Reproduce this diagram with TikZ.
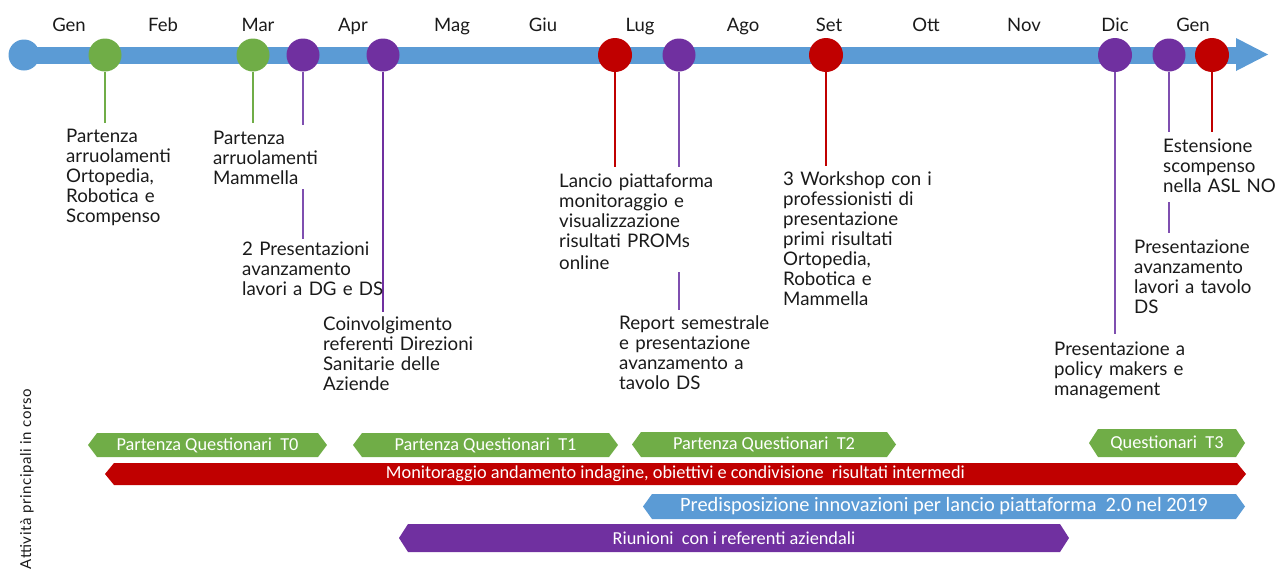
\documentclass[tikz,border=0pt]{standalone}
\usepackage{fontspec}
\setmainfont{Lato}
\newfontfamily\barfont{Carlito}
\newfontfamily\sidefont[LetterSpace=4]{Lato}
\definecolor{tgreen}{HTML}{70AD47}
\definecolor{tred}{HTML}{C00000}
\definecolor{tblue}{HTML}{5B9BD5}
\definecolor{tpurple}{HTML}{7030A0}
\definecolor{lpurple}{HTML}{7F4FB0}
\definecolor{txt}{HTML}{1A1A1A}
\newcommand{\hexbar}[5]{%
  \fill[#5] (#1,{(#3+#4)/2}) -- (#1+9,#3) -- (#2-9,#3) -- (#2,{(#3+#4)/2}) -- (#2-9,#4) -- (#1+9,#4) -- cycle;}
\begin{document}
\begin{tikzpicture}[x=1pt,y=-1pt,
  dot/.style={circle, inner sep=0pt, minimum size=33pt, fill=#1},
  month/.style={anchor=base, inner sep=0pt, font=\fontsize{18.5}{20}\selectfont, text=txt},
  lbl/.style={anchor=base west, inner sep=0pt, text width=230pt, align=left, font=\fontsize{18.7}{20}\selectfont, text=txt},
  conn/.style={line width=1.4pt, draw=#1},
  bartext/.style={inner sep=0pt, text=white, font=\barfont\fontsize{18.3}{20}\selectfont}]
\useasboundingbox (0,0) rectangle (1276,568);
% timeline
\draw[tblue, line width=17pt] (24,55) -- (1240,55);
\fill[tblue] (1236,38) -- (1268,54.5) -- (1236,71) -- cycle;
\node[dot=tblue, minimum size=31pt] (start) at (24,55) {};
% months
\node[month] (m1) at (69,31) {Gen};
\node[month] (m2) at (163,31) {Feb};
\node[month] (m3) at (258,31) {Mar};
\node[month] (m4) at (353,31) {Apr};
\node[month] (m5) at (452,31) {Mag};
\node[month] (m6) at (543,31) {Giu};
\node[month] (m7) at (640,31) {Lug};
\node[month] (m8) at (743,31) {Ago};
\node[month] (m9) at (829,31) {Set};
\node[month] (m10) at (926,31) {Ott};
\node[month] (m11) at (1024,31) {Nov};
\node[month] (m12) at (1115,31) {Dic};
\node[month] (m13) at (1193,31) {Gen};
% event dots
\node[dot=tgreen] (g1) at (105,55) {};
\node[dot=tgreen] (g2) at (253,55) {};
\node[dot=tpurple] (p1) at (303,55) {};
\node[dot=tpurple] (p2) at (383,55) {};
\node[dot=tred, minimum size=34pt] (r1) at (615,55) {};
\node[dot=tpurple] (p3) at (679,55) {};
\node[dot=tred, minimum size=34pt] (r2) at (826,55) {};
\node[dot=tpurple, minimum size=34pt] (p4) at (1115,55) {};
\node[dot=tpurple] (p5) at (1169,55) {};
\node[dot=tred, minimum size=34pt] (r3) at (1212,55) {};
% connector ends
\coordinate (eg1) at (105,123);
\coordinate (eg2) at (253,123);
\coordinate (ep1) at (303,125);
\coordinate (sp1) at (303,189);
\coordinate (tp1) at (303,239);
\coordinate (ep2) at (383,312);
\coordinate (er1) at (615,167);
\coordinate (ep3) at (679,167);
\coordinate (sp3) at (679,272);
\coordinate (tp3) at (679,310);
\coordinate (er2) at (826,166);
\coordinate (ep4) at (1115,334);
\coordinate (ep5) at (1169,132);
\coordinate (sp5) at (1169,202);
\coordinate (tp5) at (1169,233);
\coordinate (er3) at (1212,132);
\draw[conn=tgreen] (g1.south) -- (eg1);
\draw[conn=tgreen] (g2.south) -- (eg2);
\draw[conn=lpurple] (p1.south) -- (ep1);
\draw[conn=lpurple] (sp1) -- (tp1);
\draw[conn=tpurple] (p2.south) -- (ep2);
\draw[conn=tred] (r1.south) -- (er1);
\draw[conn=lpurple] (p3.south) -- (ep3);
\draw[conn=lpurple] (sp3) -- (tp3);
\draw[conn=tred] (r2.south) -- (er2);
\draw[conn=lpurple] (p4.south) -- (ep4);
\draw[conn=lpurple] (p5.south) -- (ep5);
\draw[conn=lpurple] (sp5) -- (tp5);
\draw[conn=tred] (r3.south) -- (er3);
% labels
\node[lbl] (l1) at (66,142) {Partenza\\arruolamenti\\Ortopedia,\\Robotica e\\Scompenso};
\node[lbl] (l2) at (213,144) {Partenza\\arruolamenti\\Mammella};
\node[lbl] (l3) at (242,255) {2 Presentazioni\\avanzamento\\lavori a DG e DS};
\node[lbl] (l4) at (323,330) {Coinvolgimento\\referenti Direzioni\\Sanitarie delle\\Aziende};
\node[lbl] (l5) at (559,187) {Lancio piattaforma\\monitoraggio e\\visualizzazione\\risultati PROMs\\[2pt]online};
\node[lbl] (l6) at (619,329) {Report semestrale\\e presentazione\\avanzamento a\\tavolo DS};
\node[lbl] (l7) at (783,185) {3 Workshop con i\\professionisti di\\presentazione\\primi risultati\\Ortopedia,\\Robotica e\\Mammella};
\node[lbl] (l8) at (1054,355) {Presentazione a\\policy makers e\\management};
\node[lbl] (l9) at (1163,152) {Estensione\\scompenso\\nella ASL NO};
\node[lbl] (l10) at (1134,253) {Presentazione\\avanzamento\\lavori a tavolo\\DS};
% side title
\node[rotate=90, inner sep=0pt, font=\sidefont\fontsize{15}{18}\selectfont, text=txt] (side) at (27,479) {Attività principali in corso};
% activity bars
\hexbar{88}{327}{433}{457}{tgreen}
\hexbar{353}{618}{433}{457}{tgreen}
\hexbar{632}{896}{432}{457}{tgreen}
\hexbar{1089}{1245}{429}{457}{tgreen}
\hexbar{105}{1246}{463}{485}{tred}
\hexbar{643}{1245}{494}{519}{tblue}
\hexbar{399}{1069}{524}{552}{tpurple}
\node[bartext] (b1) at (207.5,445) {Partenza Questionari\ \ T0};
\node[bartext] (b2) at (485.5,445) {Partenza Questionari\ \ T1};
\node[bartext] (b3) at (764,444.5) {Partenza Questionari\ \ T2};
\node[bartext] (b4) at (1167,443) {Questionari\ \ T3};
\node[bartext] (b5) at (675.5,474) {Monitoraggio andamento indagine, obiettivi e condivisione\ \ risultati intermedi};
\node[bartext, font=\barfont\fontsize{20.4}{22}\selectfont] (b6) at (944,506.5) {Predisposizione innovazioni per lancio piattaforma\ \ 2.0 nel 2019};
\node[bartext] (b7) at (734,538) {Riunioni\ \ con i referenti aziendali};
\end{tikzpicture}
\end{document}
